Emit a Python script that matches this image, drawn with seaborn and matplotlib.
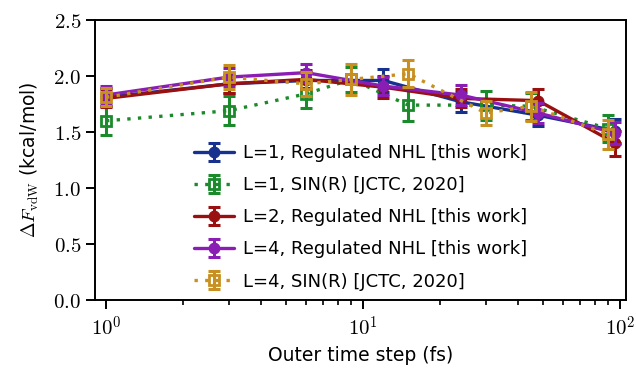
import numpy as np
import pandas as pd
import matplotlib
matplotlib.use("Agg")
import matplotlib.pyplot as plt
import seaborn as sns
from matplotlib.legend_handler import HandlerTuple
from matplotlib.ticker import FuncFormatter, FixedLocator

# ---- data ----
x_nhl = [1, 3, 6, 12, 24, 48, 96]
x_sin = [1, 3, 6, 9, 15, 30, 45, 90]

l1_nhl = [1.81, 1.93, 1.96, 1.96, 1.77, 1.65, 1.51]
l1_nhl_err = [0.08, 0.08, 0.08, 0.10, 0.09, 0.10, 0.11]

l1_sin = [1.60, 1.69, 1.84, 1.97, 1.74, 1.74, 1.73, 1.53]
l1_sin_err = [0.13, 0.13, 0.13, 0.11, 0.14, 0.13, 0.12, 0.12]

l2_nhl = [1.80, 1.93, 1.97, 1.90, 1.80, 1.78, 1.40]
l2_nhl_err = [0.08, 0.08, 0.08, 0.10, 0.08, 0.10, 0.11]

l4_nhl = [1.83, 1.99, 2.03, 1.91, 1.83, 1.67, 1.49]
l4_nhl_err = [0.08, 0.08, 0.08, 0.08, 0.09, 0.09, 0.10]

l4_sin = [1.81, 1.99, 1.93, 1.97, 2.02, 1.67, 1.73, 1.48]
l4_sin_err = [0.08, 0.11, 0.11, 0.14, 0.12, 0.11, 0.13, 0.13]

labels = ["L=1, Regulated NHL [this work]",
          "L=1, SIN(R) [JCTC, 2020]",
          "L=2, Regulated NHL [this work]",
          "L=4, Regulated NHL [this work]",
          "L=4, SIN(R) [JCTC, 2020]"]
colors = ["#17318f", "#1b8a2b", "#9a1010", "#8a1db3", "#c89020"]

series = [(x_nhl, l1_nhl, l1_nhl_err, "nhl"),
          (x_sin, l1_sin, l1_sin_err, "sin"),
          (x_nhl, l2_nhl, l2_nhl_err, "nhl"),
          (x_nhl, l4_nhl, l4_nhl_err, "nhl"),
          (x_sin, l4_sin, l4_sin_err, "sin")]

sns.set_style("ticks")
plt.rcParams["font.family"] = ["DejaVu Sans"]
plt.rcParams["mathtext.fontset"] = "cm"
plt.rcParams["text.color"] = "black"
plt.rcParams["axes.labelcolor"] = "black"
plt.rcParams["xtick.color"] = "black"
plt.rcParams["ytick.color"] = "black"

fig = plt.figure(figsize=(6.36, 3.71), dpi=100)
ax = fig.add_axes([95 / 636, 1 - 300 / 371, 531 / 636, 280 / 371])

handles = []
for (xs, ys, es, kind), lab, col in zip(series, labels, colors):
    df = pd.DataFrame({"x": xs, "y": ys})
    if kind == "nhl":
        sns.lineplot(data=df, x="x", y="y", ax=ax, color=col, linewidth=2.4,
                     linestyle="-", marker="o", markersize=7.5,
                     markerfacecolor=col, markeredgecolor=col,
                     markeredgewidth=1.0, legend=False)
    else:
        sns.lineplot(data=df, x="x", y="y", ax=ax, color=col, linewidth=2.4,
                     linestyle=(0, (1, 2.2)), marker="s", markersize=7,
                     markerfacecolor="none", markeredgecolor=col,
                     markeredgewidth=2.0, legend=False)
    line = ax.lines[-1]
    errc = ax.errorbar(xs, ys, yerr=es, fmt="none", ecolor=col,
                       elinewidth=2.2, capsize=4.5, capthick=2.2)
    handles.append((line, errc))

ax.set_xscale("log")
ax.set_xlim(0.906, 105.5)
ax.set_ylim(0, 2.5)
ax.set_yticks([0.0, 0.5, 1.0, 1.5, 2.0, 2.5])
ax.yaxis.set_major_formatter(FuncFormatter(lambda v, p: r"$%.1f$" % v))
ax.xaxis.set_major_locator(FixedLocator([1, 10, 100]))
ax.xaxis.set_major_formatter(FuncFormatter(lambda v, p: r"$10^{%d}$" % round(np.log10(v))))
ax.tick_params(axis="both", which="major", direction="out", length=6.5,
               width=1.4, labelsize=15, colors="black")
ax.tick_params(axis="x", which="minor", direction="out", length=3.5, width=1.2,
               colors="black")
ax.tick_params(axis="x", which="major", pad=5)
for s in ax.spines.values():
    s.set_linewidth(1.4)
    s.set_color("black")
    s.set_visible(True)

ax.set_xlabel("Outer time step (fs)", fontsize=13.5, labelpad=4)
ax.set_ylabel(r"$\Delta F_{\rm vdW}$ (kcal/mol)", fontsize=13.5, labelpad=9)

leg = ax.legend(handles=handles, labels=labels,
                handler_map={tuple: HandlerTuple(ndivide=1)},
                loc="lower center", bbox_to_anchor=(0.50, -0.005),
                fontsize=13, frameon=False, handlelength=2.2,
                handletextpad=0.5, labelspacing=0.78, borderaxespad=0.2)
for t in leg.get_texts():
    t.set_color("black")

fig.savefig("out.png", dpi=100)
